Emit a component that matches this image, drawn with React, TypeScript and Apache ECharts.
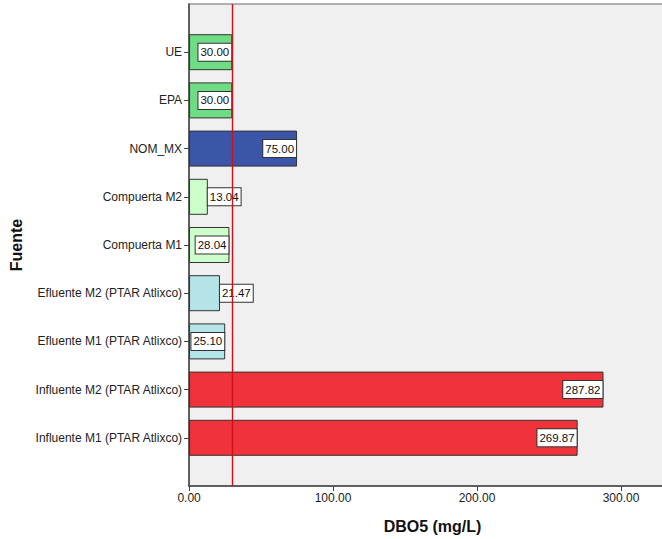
import React, { useEffect, useRef } from "react";
import * as echarts from "echarts";

// Categories from bottom to top (empty padding slots at both ends)
const categories = [
  "",
  "Influente M1 (PTAR Atlixco)",
  "Influente M2 (PTAR Atlixco)",
  "Efluente M1 (PTAR Atlixco)",
  "Efluente M2 (PTAR Atlixco)",
  "Compuerta M1",
  "Compuerta M2",
  "NOM_MX",
  "EPA",
  "UE",
  "",
];
const values: (number | null)[] = [null, 269.87, 287.82, 25.1, 21.47, 28.04, 13.04, 75.0, 30.0, 30.0, null];
const xTicks = [0, 100, 200, 300];
const referenceValue = 30;

const groupColors: Record<string, string> = {
  "Influente M1 (PTAR Atlixco)": "#F0323A",
  "Influente M2 (PTAR Atlixco)": "#F0323A",
  "Efluente M1 (PTAR Atlixco)": "#B4E4E8",
  "Efluente M2 (PTAR Atlixco)": "#B4E4E8",
  "Compuerta M1": "#CCFFCC",
  "Compuerta M2": "#CCFFCC",
  NOM_MX: "#3B55A8",
  EPA: "#6EDC84",
  UE: "#6EDC84",
};

const FONT = "'Liberation Sans', Arial, sans-serif";
const CHART_W = 676;

export default function App() {
  const ref = useRef<HTMLDivElement>(null);
  useEffect(() => {
    if (!ref.current) return;
    const chart = echarts.init(ref.current, undefined, { renderer: "svg" });
    const gridLeft = 189;
    const plotWidth = CHART_W - gridLeft;
    const pxPer100 = 144;
    const xMax = (plotWidth / pxPer100) * 100;

    const data = values.map((v, i) => {
      if (v == null) return { value: null };
      const inside = v * (pxPer100 / 100) > 35;
      return {
        value: v,
        itemStyle: { color: groupColors[categories[i]] },
        label: {
          show: true,
          position: inside ? "insideRight" : "right",
          distance: inside ? 1 : 0,
        },
      };
    });

    chart.setOption({
      animation: false,
      textStyle: { fontFamily: FONT },
      grid: {
        left: gridLeft,
        right: 0,
        top: 4,
        bottom: 53,
        show: true,
        backgroundColor: "#F0F0F0",
        borderColor: "#999",
        borderWidth: 1.5,
      },
      xAxis: {
        type: "value",
        min: xTicks[0],
        max: xMax,
        interval: xTicks[1] - xTicks[0],
        splitLine: { show: false },
        axisLine: { show: true, lineStyle: { color: "#444", width: 1.5 } },
        axisTick: { show: true, length: 5, lineStyle: { color: "#444" } },
        axisLabel: {
          showMaxLabel: false,
          color: "#222",
          fontSize: 12,
          fontFamily: FONT,
          margin: 6,
          formatter: (v: number) => (xTicks.includes(v) ? v.toFixed(2) : ""),
        },
        name: "DBO5 (mg/L)",
        nameLocation: "middle",
        nameGap: 32,
        nameTextStyle: { fontWeight: "bold", fontSize: 16, color: "#111", fontFamily: FONT },
      },
      yAxis: {
        type: "category",
        data: categories,
        boundaryGap: false,
        axisLine: { show: true, lineStyle: { color: "#444", width: 1.5 } },
        axisTick: {
          show: true,
          length: 5,
          alignWithLabel: true,
          interval: (idx: number, val: string) => val !== "",
          lineStyle: { color: "#444" },
        },
        axisLabel: {
          color: "#222",
          fontSize: 12,
          fontFamily: FONT,
          margin: 7,
          interval: 0,
        },
        splitLine: { show: false },
        name: "Fuente",
        nameLocation: "middle",
        nameGap: 162,
        nameTextStyle: { fontWeight: "bold", fontSize: 16, color: "#111", fontFamily: FONT },
      },
      series: [
        {
          type: "bar",
          data,
          barWidth: 36,
          itemStyle: { borderColor: "#333", borderWidth: 1 },
          label: {
            show: true,
            formatter: (p: any) => (p.value == null ? "" : Number(p.value).toFixed(2)),
            backgroundColor: "#FFFFFF",
            borderColor: "#333",
            borderWidth: 1,
            padding: [3, 2, 2, 2],
            color: "#111",
            fontSize: 11.5,
            fontFamily: FONT,
          },
          markLine: {
            silent: true,
            symbol: ["none", "none"],
            label: { show: false },
            lineStyle: { color: "#D01018", width: 1.4, type: "solid" },
            data: [{ xAxis: referenceValue }],
          },
        },
      ],
    });
    return () => chart.dispose();
  }, []);
  return (
    <div
      style={{ position: "fixed", left: 0, top: 0, width: 662, height: 539, overflow: "hidden", background: "#fff" }}
    >
      <div ref={ref} style={{ width: CHART_W, height: 539 }} />
    </div>
  );
}
